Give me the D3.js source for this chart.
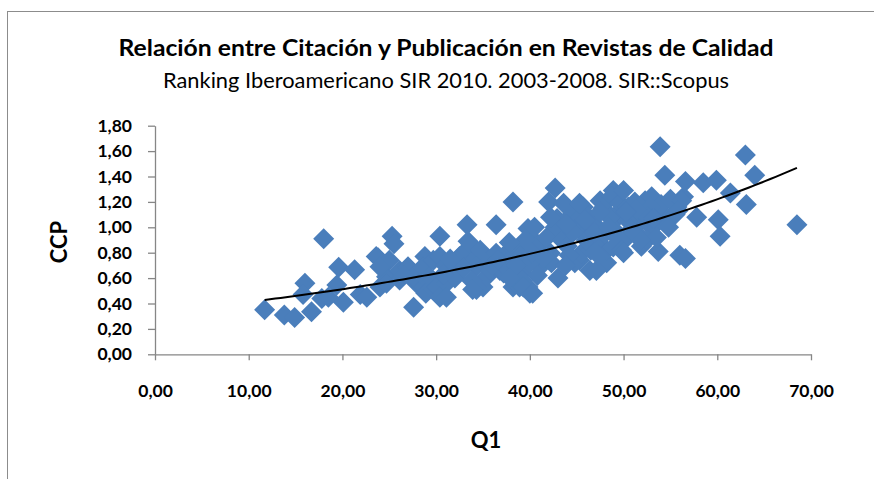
<!DOCTYPE html>
<html><head><meta charset="utf-8">
<script src="https://cdn.jsdelivr.net/npm/d3@7"></script>
<style>
html,body{margin:0;padding:0;background:#fff;}
svg{display:block;font-family:Lato,"Open Sans",sans-serif;}
</style></head>
<body>
<svg id="chart" width="874" height="479"></svg>
<script>
// ---- data ----
const titleText = "Relación entre Citación y Publicación en Revistas de Calidad";
const subtitleText = "Ranking Iberoamericano SIR 2010. 2003-2008. SIR::Scopus";
const xAxisTitle = "Q1";
const yAxisTitle = "CCP";
const xTicks = [0,10,20,30,40,50,60,70];
const yTicks = [0,0.2,0.4,0.6,0.8,1.0,1.2,1.4,1.6,1.8];
// exponential trend y = a * e^(b x), read from the drawn trendline
const trendA = 0.332;
const trendB = 0.0217;

const q1 = [
 11.7,13.8,14.9,16.7,16.0,15.8,17.8,18.0,18.5,19.6,21.3,19.4,20.1,21.9,22.6,23.8,24.0,24.7,23.6,
 25.3,25.5,25.0,24.0,26.1,27.0,27.6,27.9,26.1,28.3,28.9,27.6,28.3,28.8,28.6,29.3,29.7,29.7,30.1,24.7,26.5,
 30.4,30.4,30.4,31.1,31.8,32.2,32.5,32.9,33.3,33.4,33.7,34.0,34.7,34.3,34.3,35.0,35.4,31.0,32.0,33.0,35.5,31.5,30.8,33.8,35.8,33.9,31.1,
 36.4,38.2,37.5,38.2,38.2,36.8,37.2,36.4,38.9,39.8,40.4,38.9,40.0,41.1,42.2,42.7,42.0,43.6,42.9,42.7,43.0,39.8,39.1,41.6,42.3,40.5,
 37.0,38.0,39.0,40.0,40.8,39.5,41.0,37.8,36.0,38.6,40.2,41.8,39.2,37.9,41.5,42.2,39.3,40.3,36.6,
 45.7,47.5,46.8,45.7,45.3,46.4,48.2,48.2,48.9,48.7,46.2,49.1,44.8,45.5,43.4,44.0,44.5,46.0,47.0,48.0,49.5,44.2,46.5,47.8,49.0,43.8,45.0,46.0,48.5,47.1,48.9,
 45.3,49.6,47.5,44.6,46.9,48.4,43.9,45.9,47.3,49.3,
 50.0,50.5,52.3,53.0,51.6,50.1,49.8,51.9,53.9,54.4,53.7,56.0,56.6,56.4,55.7,54.2,53.5,51.0,52.0,53.0,54.0,55.0,51.5,52.5,50.5,54.5,55.5,52.8,51.2,53.5,50.0,51.8,56.2,55.8,
 50.8,52.6,54.8,51.4,53.2,50.3,
 56.6,58.5,59.9,61.4,63.1,57.8,60.1,60.3,63.0,64.0,68.5
];
const ccp = [
 0.35,0.31,0.29,0.335,0.56,0.47,0.44,0.91,0.45,0.685,0.665,0.545,0.41,0.47,0.45,0.76,0.53,0.61,0.77,
 0.93,0.87,0.74,0.69,0.66,0.69,0.37,0.56,0.585,0.56,0.48,0.61,0.64,0.77,0.69,0.61,0.74,0.51,0.53,0.56,0.62,
 0.93,0.77,0.45,0.56,0.66,0.72,0.77,0.795,1.02,0.89,0.86,0.74,0.82,0.51,0.69,0.53,0.61,0.70,0.60,0.68,0.72,0.75,0.63,0.58,0.66,0.51,0.45,
 1.02,1.20,0.795,0.66,0.53,0.66,0.64,0.795,0.85,0.99,0.90,0.53,0.48,0.69,0.795,1.31,1.20,1.19,1.07,1.00,0.60,0.53,0.64,0.82,0.72,1.00,
 0.72,0.75,0.78,0.72,0.62,0.90,0.85,0.88,0.70,0.70,0.80,0.92,0.58,0.60,0.76,1.08,0.53,0.48,0.74,
 1.16,1.21,1.03,0.95,0.74,0.66,0.72,0.82,1.29,1.24,0.98,1.06,0.72,0.795,0.90,0.85,1.10,1.10,0.88,0.95,1.12,0.78,0.82,1.15,0.98,0.70,1.05,0.90,1.08,0.66,0.845,
 1.19,1.19,1.12,0.96,0.96,1.00,1.02,1.06,0.78,0.92,
 1.29,1.16,1.21,1.24,1.03,0.90,0.82,0.85,1.635,1.41,0.81,0.78,0.755,1.24,1.16,1.11,1.03,1.10,1.12,1.00,1.18,1.22,0.95,0.90,1.05,1.05,1.10,1.16,1.20,0.92,0.80,0.90,1.21,1.13,
 0.98,1.08,1.00,1.14,1.07,1.12,
 1.36,1.35,1.37,1.27,1.18,1.08,1.06,0.93,1.57,1.41,1.02
];

// ---- drawing ----
const svg = d3.select("#chart");
const W = 874, H = 479;

// chart border
svg.append("rect").attr("x",7.5).attr("y",11.5).attr("width",W+20).attr("height",H+20)
  .attr("fill","#fff").attr("stroke","#8c8c8c").attr("stroke-width",1);

const x = d3.scaleLinear().domain([0,70]).range([155,811]);
const y = d3.scaleLinear().domain([0,1.8]).range([354.3,125.7]);
const fmt = v => d3.format(".2f")(v).replace(".",",");

// titles
svg.append("text").attr("x",446).attr("y",56).attr("text-anchor","middle")
  .attr("font-size",23.5).attr("font-weight","bold").attr("fill","#000")
  .attr("textLength",655).attr("lengthAdjust","spacingAndGlyphs").text(titleText);
svg.append("text").attr("x",446).attr("y",88).attr("text-anchor","middle")
  .attr("font-size",20.5).attr("fill","#000")
  .attr("textLength",566).attr("lengthAdjust","spacingAndGlyphs").text(subtitleText);

// axes
const yAxis = d3.axisLeft(y).tickValues(yTicks).tickFormat(fmt).tickSize(7).tickSizeOuter(0).tickPadding(16);
const gy = svg.append("g").attr("transform","translate(155,0)").call(yAxis);
const xAxis = d3.axisBottom(x).tickValues(xTicks).tickFormat(fmt).tickSize(6).tickSizeOuter(0).tickPadding(24);
const gx = svg.append("g").attr("transform","translate(0,354.3)").call(xAxis);
[gx,gy].forEach(g=>{
  g.select(".domain").attr("stroke","#868686").attr("stroke-width",1.3);
  g.selectAll(".tick line").attr("stroke","#868686").attr("stroke-width",1.3);
  g.selectAll(".tick text").attr("font-family","Lato, sans-serif").attr("font-size",17.5)
    .attr("font-weight","bold").attr("fill","#000");
});

svg.append("text").attr("transform","translate(67,242) rotate(-90)").attr("text-anchor","middle")
  .attr("font-size",22).attr("font-weight","bold").text(yAxisTitle);
svg.append("text").attr("x",486).attr("y",448).attr("text-anchor","middle")
  .attr("font-size",22).attr("font-weight","bold").text(xAxisTitle);

// points
const pts = q1.map((v,i)=>({q:v,c:ccp[i]}));
const r = 10.5;
const diamond = `M0,${-r}L${r},0L0,${r}L${-r},0Z`;
svg.append("g").selectAll("path").data(pts).join("path")
  .attr("d",diamond)
  .attr("transform",d=>`translate(${x(d.q)},${y(d.c)})`)
  .attr("fill","#4A7EBB");

// trendline
const xmin = d3.min(q1), xmax = d3.max(q1);
const trendPts = d3.range(0,101).map(i=>{const q = xmin+(xmax-xmin)*i/100; return [q, trendA*Math.exp(trendB*q)];});
svg.append("path").datum(trendPts)
  .attr("d",d3.line().x(d=>x(d[0])).y(d=>y(d[1])))
  .attr("fill","none").attr("stroke","#000").attr("stroke-width",2);
</script>
</body></html>
